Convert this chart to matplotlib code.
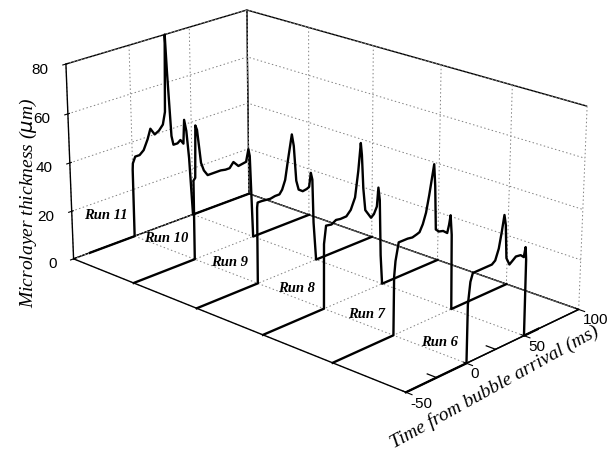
import numpy as np
import matplotlib
matplotlib.use("Agg")
import matplotlib.pyplot as plt

# ---- data -------------------------------------------------------------
runs = [11, 10, 9, 8, 7, 6]
run_labels = ["Run 11", "Run 10", "Run 9", "Run 8", "Run 7", "Run 6"]

time_ticks = [-50, 0, 50, 100]
time_minor_ticks = [-25, 25, 75]
thickness_ticks = [0, 20, 40, 60, 80]
thickness_minor_ticks = [10, 30, 50, 70]

# time (ms) and microlayer thickness (um) for each run
t_run11 = [-50, 0, 0.0, 0.3, 2.4, 6, 9.5, 13, 15.5, 19, 22.6, 26, 28, 29.3, 30.5,
           33, 34.5, 38, 40.5, 43, 44, 45.7, 47.6, 50, 100]
h_run11 = [0, 0, 28.4, 31, 33.5, 33.5, 35, 39, 43, 40, 41, 43, 48, 80, 64,
           37, 33, 33, 34, 32, 42, 37, 25, 0, 0]

t_run10 = [-50, 0, 0.2, 1.7, 2.6, 3.9, 6.7, 8.9, 12, 15.4, 18.6, 23, 27, 30.5,
           33.8, 38, 42.4, 44.6, 46.7, 47.8, 50, 100]
h_run10 = [0, 0, 32.8, 33.7, 55, 53, 39, 35.5, 33, 33, 33, 33, 32.6, 32.6,
           34.6, 32.2, 32.6, 32.8, 37.7, 34.7, 0, 0]

t_run9 = [-50, 0, 0.0, 0.5, 3.7, 7.5, 11, 15, 18.7, 21, 23.6, 26, 29.4, 31, 33,
          35, 38.5, 42, 44, 45.5, 46.8, 47.8, 50, 100]
h_run9 = [0, 0, 31, 33, 33, 32.8, 32.6, 33, 33, 34.5, 38, 45.5, 55.4, 50.5, 36,
          32, 30.7, 31, 31.5, 37, 34, 16, 0, 0]

t_run8 = [-50, 0, 0.0, 1.7, 6.2, 10, 13.7, 18.7, 22.4, 26, 28.6, 30.6, 31.6, 33,
          34.8, 37.3, 39.8, 42.3, 44.8, 46, 47.3, 48.5, 50, 100]
h_run8 = [0, 0, 26, 33, 32.6, 33.7, 33.4, 33.5, 35.4, 39.7, 49.7, 60.4, 55.5, 42,
          33, 31, 29, 30, 32.6, 40, 34.7, 12, 0, 0]

t_run7 = [-50, 0, 0.0, 1.0, 3.5, 7.3, 11, 15, 18.7, 21, 23.7, 26.3, 28.8, 32.6,
          33.8, 35, 37.6, 41.4, 45, 46.5, 47.7, 49, 50, 100]
h_run7 = [0, 0, 23, 29, 35.8, 35.8, 35.8, 35.5, 36, 36.4, 39, 43, 49.4, 60.6,
          52, 34.8, 33.5, 33, 31.5, 34.5, 38, 30, 0, 0]

t_run6 = [-50, 0, 0.0, 1.7, 3.6, 7.2, 11.4, 15.6, 19.7, 22.5, 25.3, 27.5, 29.4,
          30.8, 32.2, 35, 37.8, 40.5, 44.7, 47.5, 48.9, 49.7, 50, 100]
h_run6 = [0, 0, 22.6, 31, 34, 34, 34, 34, 34, 35, 39, 45, 51, 47, 34, 31, 32, 33,
          32.7, 31.4, 35, 30, 0, 0]

series_t = [t_run11, t_run10, t_run9, t_run8, t_run7, t_run6]
series_h = [h_run11, h_run10, h_run9, h_run8, h_run7, h_run6]

# ---- style ------------------------------------------------------------
plt.rcParams["grid.color"] = "0.5"
plt.rcParams["grid.linestyle"] = (0, (1.5, 2.5))
plt.rcParams["grid.linewidth"] = 0.7
plt.rcParams["axes.linewidth"] = 1.0

fig = plt.figure(figsize=(6.13, 4.5), dpi=100)
ax = fig.add_axes([0.012, 0.074, 1, 1], projection="3d")
ax.set_proj_type("persp", focal_length=1.0)
ax.view_init(elev=21, azim=-136.6)
ax.set_box_aspect((1.09, 1.95, 0.90), zoom=1.23)

t_lo, t_hi = min(time_ticks), max(time_ticks)
r_lo, r_hi = min(runs), max(runs)
ax.set_xlim(t_lo, t_hi)
ax.set_ylim(r_lo, r_hi)
ax.set_zlim(min(thickness_ticks), max(thickness_ticks))

for axis in (ax.xaxis, ax.yaxis, ax.zaxis):
    axis.set_pane_color((1, 1, 1, 1))
    axis.pane.set_edgecolor("black")
    axis.pane.set_linewidth(1.0)
    axis.line.set_color("black")
    axis.line.set_linewidth(1.0)

ax.set_xticks(time_ticks)
ax.set_xticklabels([str(v) for v in time_ticks], fontfamily="Liberation Sans",
                   fontsize=11, ha="left")
ax.set_yticks(runs)
ax.set_yticklabels([])
for lbl in ax.yaxis.get_ticklabels():
    lbl.set_visible(False)
ax.set_zticks(thickness_ticks)
ax.set_zticklabels([str(v) for v in thickness_ticks], fontfamily="Liberation Sans",
                   fontsize=11, ha="right")
ax.tick_params(axis="x", pad=-6)
ax.tick_params(axis="z", pad=-2)

ax.yaxis._axinfo["tick"]["inward_factor"] = 0
ax.yaxis._axinfo["tick"]["outward_factor"] = 0

# short intermediate tick marks along the time and thickness axes
t_tick_len = 0.025 * (r_hi - r_lo)
for tv in time_minor_ticks:
    ax.plot([tv, tv], [r_lo, r_lo + t_tick_len], [0, 0], color="black", linewidth=0.9)
z_tick_len = 0.025 * (t_hi - t_lo)
for zv in thickness_minor_ticks:
    ax.plot([t_lo, t_lo + z_tick_len], [r_hi, r_hi], [zv, zv], color="black", linewidth=0.9)

for run, t, h in zip(runs, series_t, series_h):
    ax.plot(t, [run] * len(t), h, color="black", linewidth=1.7)

for run, lab in zip(runs, run_labels):
    ax.text(-23, run, 13, lab, ha="center", va="center", fontsize=10.5,
            fontfamily="Liberation Serif", fontstyle="italic", fontweight="bold")

fig.text(0.046, 0.55, "Microlayer thickness ($\\mu$m)", rotation=90, ha="center", va="center",
         fontsize=14, fontfamily="Liberation Serif", fontstyle="italic")
fig.text(0.807, 0.14, "Time from bubble arrival (ms)", rotation=29, ha="center", va="center",
         fontsize=14, fontfamily="Liberation Serif", fontstyle="italic")

fig.savefig("out.png", dpi=100)
